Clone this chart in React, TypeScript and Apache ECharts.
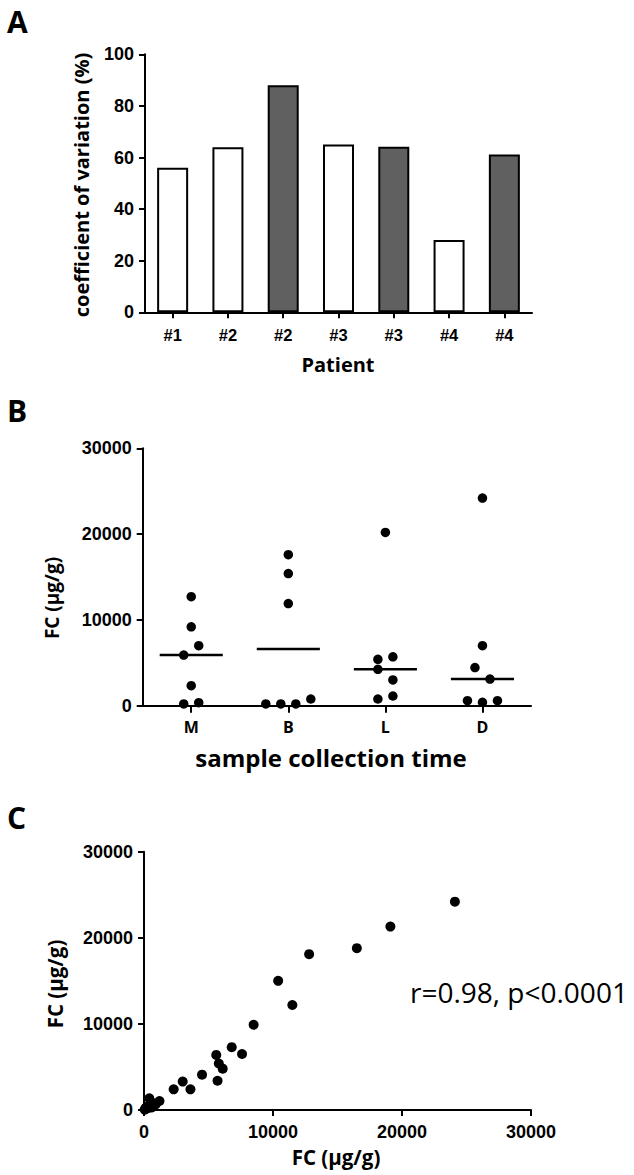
import React, { useEffect, useRef } from "react";
import * as echarts from "echarts";

// ---------- Panel A data ----------
const patientLabels = ["#1", "#2", "#2", "#3", "#3", "#4", "#4"];
const cvValues = [56, 64, 88, 65, 64.2, 28, 61.2];
const cvFilled = [false, false, true, false, true, false, true];

// ---------- Panel B data ----------
const timeLabels = ["M", "B", "L", "D"];
const fcM = [12700, 9200, 5900, 7000, 2330, 200, 350];
const fcB = [17600, 15400, 11900, 200, 200, 200, 780];
const fcL = [20200, 5410, 5700, 4240, 3000, 780, 1130];
const fcD = [24200, 7000, 4450, 3100, 580, 400, 580];
const fcCenterLine = [5900, 6600, 4240, 3100];

// ---------- Panel C data ----------
const corrX = [24100, 19100, 16500, 12800, 10400, 11500, 8500, 6800, 7600, 5600, 5800, 6100, 5700, 4500, 3000, 3600, 2300, 1200, 410, 720, 210, 100, 300, 500, 150, 600, 900, 50];
const corrY = [24200, 21300, 18800, 18100, 15000, 12200, 9900, 7300, 6500, 6400, 5400, 4800, 3400, 4100, 3300, 2400, 2400, 1050, 1360, 780, 380, 100, 200, 500, 250, 300, 650, 50];
const corrText = "r=0.98, p<0.0001";

const ROW_GAP = 1400; // values closer than this share a row in the column scatter
const ROW_STEP = 15; // px between neighbours in a row

function spread(values: number[]): number[] {
  const order = values.map((v, i) => i).sort((a, b) => values[b] - values[a]);
  const rows: number[][] = [];
  let start = Infinity;
  for (const i of order) {
    if (rows.length && start - values[i] <= ROW_GAP) rows[rows.length - 1].push(i);
    else {
      rows.push([i]);
      start = values[i];
    }
  }
  const off = new Array(values.length).fill(0);
  for (const r of rows) {
    r.sort((a, b) => a - b);
    r.forEach((idx, k) => (off[idx] = (k - (r.length - 1) / 2) * ROW_STEP));
  }
  return off;
}

const TICK_FONT = "Liberation Sans";
const TITLE_FONT = "Open Sans";

const axisCommon = {
  axisLine: { show: true, onZero: false, lineStyle: { color: "#000", width: 2 } },
  axisTick: { show: true, length: 6, lineStyle: { color: "#000", width: 2 } },
  splitLine: { show: false },
  axisLabel: {
    color: "#000",
    fontWeight: "bold",
    fontFamily: TICK_FONT,
    fontSize: 18,
    margin: 11,
    formatter: (v: any) => String(v),
  },
};

export default function App() {
  const ref = useRef<HTMLDivElement>(null);
  useEffect(() => {
    if (!ref.current) return;
    const chart = echarts.init(ref.current, undefined, { renderer: "svg" });
    const groups = [fcM, fcB, fcL, fcD];
    const scatterB: any[] = [];
    groups.forEach((g, gi) => {
      const off = spread(g);
      g.forEach((v, i) => scatterB.push({ value: [gi, v], symbolOffset: [off[i], 0] }));
    });

    const option: any = {
      animation: false,
      backgroundColor: "#fff",
      grid: [
        { left: 145, top: 54.3, width: 387, height: 258, outerBoundsMode: "none" },
        { left: 142.7, top: 448.3, width: 388.3, height: 257.4, outerBoundsMode: "none" },
        { left: 144, top: 851.7, width: 387, height: 258.3, outerBoundsMode: "none" },
      ],
      xAxis: [
        {
          ...axisCommon,
          gridIndex: 0,
          type: "category",
          data: patientLabels,
          axisTick: { ...axisCommon.axisTick, alignWithLabel: true, interval: 0 },
          axisLabel: { ...axisCommon.axisLabel, fontSize: 16.5, margin: 14, interval: 0 },
        },
        {
          ...axisCommon,
          gridIndex: 1,
          type: "category",
          data: timeLabels,
          axisTick: { ...axisCommon.axisTick, alignWithLabel: true, interval: 0, length: 7 },
          axisLabel: { ...axisCommon.axisLabel, fontFamily: TITLE_FONT, fontSize: 16, margin: 13, interval: 0 },
        },
        {
          ...axisCommon,
          gridIndex: 2,
          type: "value",
          min: 0,
          max: 30000,
          interval: 10000,
          axisLabel: { ...axisCommon.axisLabel, margin: 13 },
        },
      ],
      yAxis: [
        { ...axisCommon, gridIndex: 0, type: "value", min: 0, max: 100, interval: 20 },
        { ...axisCommon, gridIndex: 1, type: "value", min: 0, max: 30000, interval: 10000 },
        { ...axisCommon, gridIndex: 2, type: "value", min: 0, max: 30000, interval: 10000 },
      ],
      series: [
        {
          type: "bar",
          xAxisIndex: 0,
          yAxisIndex: 0,
          barWidth: 31,
          data: cvValues.map((v, i) => ({
            value: v,
            itemStyle: { color: cvFilled[i] ? "#606060" : "#ffffff", borderColor: "#000", borderWidth: 2 },
          })),
        },
        {
          type: "custom",
          xAxisIndex: 1,
          yAxisIndex: 1,
          z: 1,
          data: fcCenterLine.map((v, i) => [i, v]),
          renderItem: (params: any, api: any) => {
            const p = api.coord([api.value(0), api.value(1)]);
            const w = api.size([1, 0])[0] * 0.65;
            return {
              type: "line",
              shape: { x1: p[0] - w / 2, y1: p[1], x2: p[0] + w / 2, y2: p[1] },
              style: { stroke: "#000", lineWidth: 2.5 },
            };
          },
        },
        {
          type: "scatter",
          xAxisIndex: 1,
          yAxisIndex: 1,
          z: 3,
          symbol: "circle",
          symbolSize: 9.5,
          itemStyle: { color: "#000", opacity: 1 },
          data: scatterB,
        },
        {
          type: "scatter",
          xAxisIndex: 2,
          yAxisIndex: 2,
          symbol: "circle",
          symbolSize: 10,
          itemStyle: { color: "#000", opacity: 1 },
          data: corrX.map((x, i) => [x, corrY[i]]),
        },
      ],
      graphic: [
        { type: "text", x: 7, y: 21, style: { text: "A", font: `bold 30px "${TITLE_FONT}"`, fill: "#000", verticalAlign: "middle" } },
        { type: "text", x: 7, y: 410, style: { text: "B", font: `bold 30px "${TITLE_FONT}"`, fill: "#000", verticalAlign: "middle" } },
        { type: "text", x: 7, y: 817, style: { text: "C", font: `bold 30px "${TITLE_FONT}"`, fill: "#000", verticalAlign: "middle" } },
        {
          type: "text",
          x: 81,
          y: 185,
          rotation: Math.PI / 2,
          style: { text: "coefficient of variation (%)", font: `bold 20px "${TITLE_FONT}"`, fill: "#000", align: "center", verticalAlign: "middle" },
        },
        { type: "text", x: 338, y: 364, style: { text: "Patient", font: `bold 20px "${TITLE_FONT}"`, fill: "#000", align: "center", verticalAlign: "middle" } },
        {
          type: "text",
          x: 52,
          y: 598,
          rotation: Math.PI / 2,
          style: { text: "FC (μg/g)", font: `bold 19px "${TITLE_FONT}"`, fill: "#000", align: "center", verticalAlign: "middle" },
        },
        { type: "text", x: 331, y: 757, style: { text: "sample collection time", font: `bold 24px "${TITLE_FONT}"`, fill: "#000", align: "center", verticalAlign: "middle" } },
        {
          type: "text",
          x: 55,
          y: 984,
          rotation: Math.PI / 2,
          style: { text: "FC (μg/g)", font: `bold 20.5px "${TITLE_FONT}"`, fill: "#000", align: "center", verticalAlign: "middle" },
        },
        { type: "text", x: 336, y: 1157, style: { text: "FC (μg/g)", font: `bold 20.5px "${TITLE_FONT}"`, fill: "#000", align: "center", verticalAlign: "middle" } },
        { type: "text", x: 410, y: 992, style: { text: corrText, font: `28px "${TITLE_FONT}"`, fill: "#000", verticalAlign: "middle" } },
      ],
    };
    chart.setOption(option);
    return () => chart.dispose();
  }, []);
  return <div ref={ref} style={{ position: "absolute", left: 0, top: 0, width: 634, height: 1175 }} />;
}
